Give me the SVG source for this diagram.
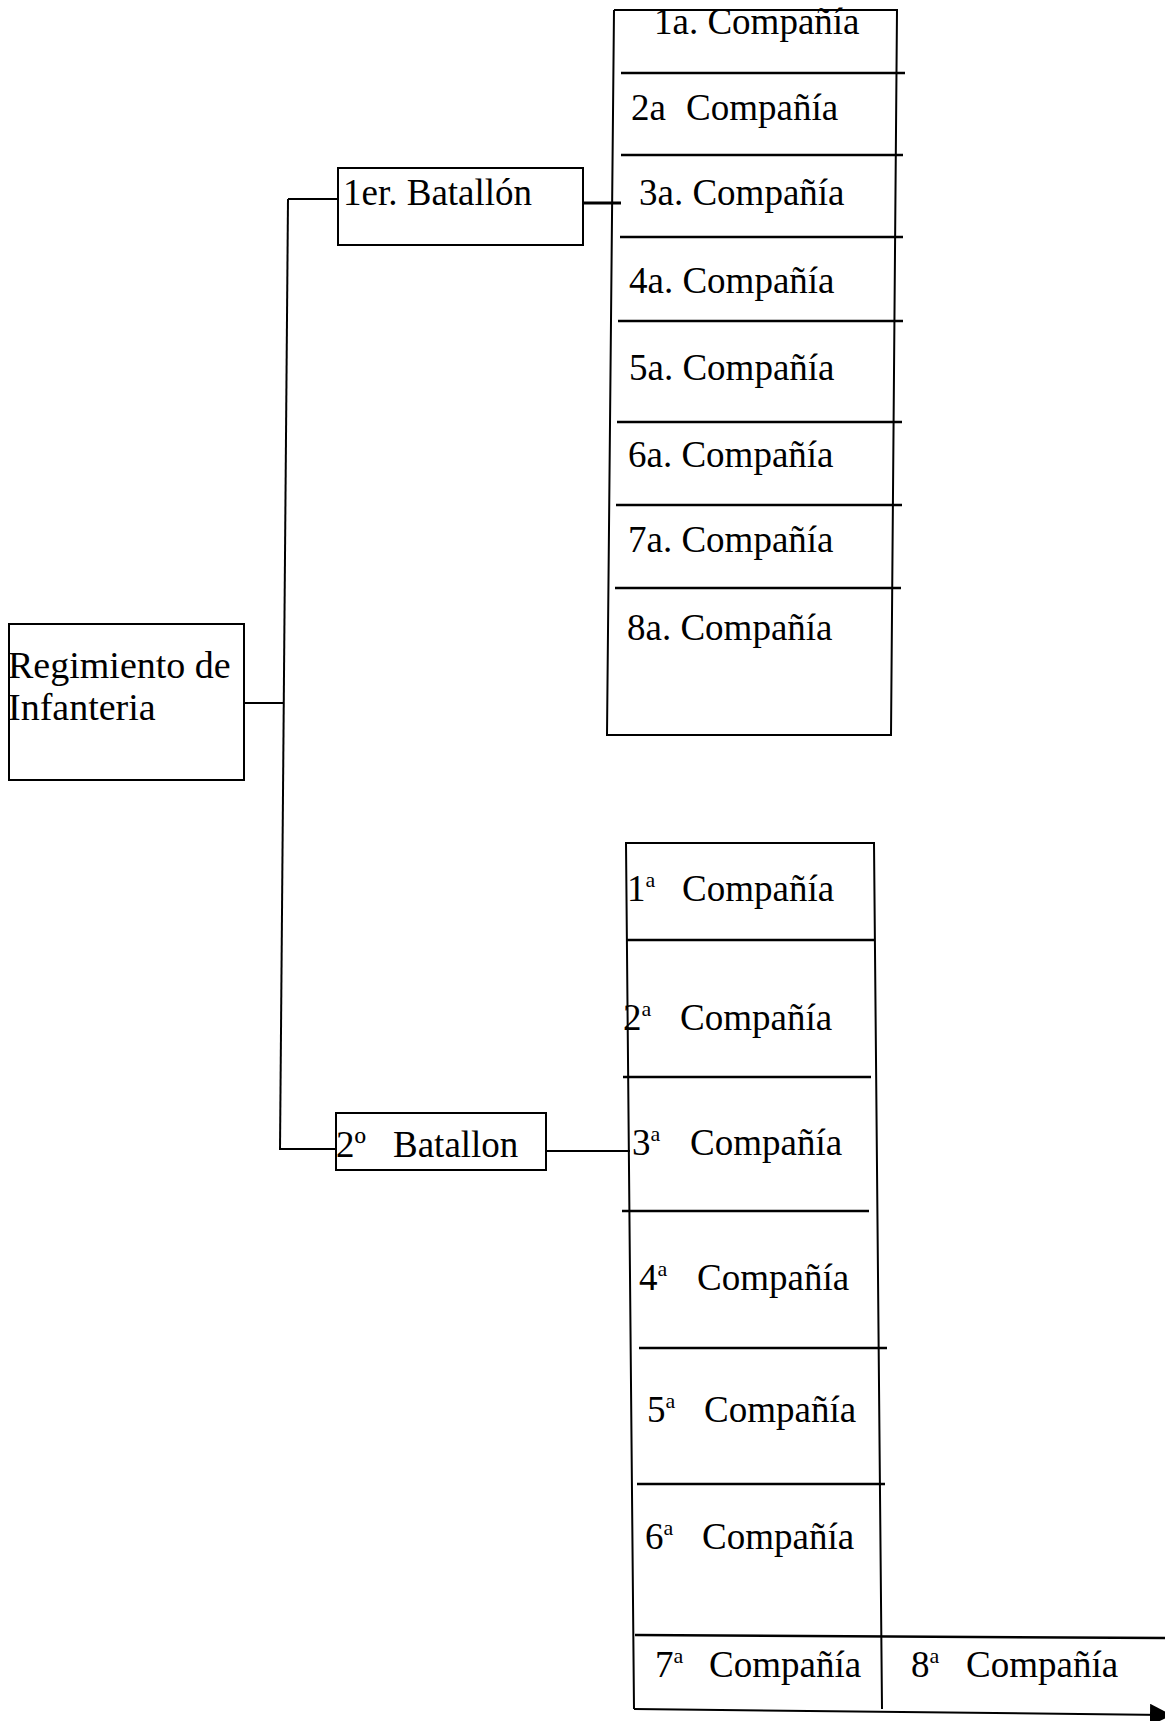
<svg xmlns="http://www.w3.org/2000/svg" width="1165" height="1721" viewBox="0 0 1165 1721">
<style>
.box{fill:none;stroke:#000;stroke-width:2}
.ln{fill:none;stroke:#000;stroke-width:2}
.sep{fill:none;stroke:#000;stroke-width:2.5}
.t{font-family:"Liberation Serif","Times New Roman",serif;font-size:37px;fill:#000}
.big{font-size:38px}
.sup{font-size:22px}
</style>
<defs>
<marker id="arr" viewBox="0 0 10 10" refX="10" refY="5" markerWidth="22" markerHeight="22" markerUnits="userSpaceOnUse" orient="auto">
<path d="M0,0 L10,5 L0,10 Z" fill="#000"/>
</marker>
</defs>
<rect width="1165" height="1721" fill="#fff"/>

<g id="connectors">
<line class="ln" x1="245" y1="703" x2="284" y2="703"/>
<line class="ln" x1="288" y1="199" x2="280" y2="1150"/>
<line class="ln" x1="288" y1="199" x2="338" y2="199"/>
<line class="ln" x1="280" y1="1149" x2="336" y2="1149"/>
<line class="ln" x1="583" y1="203" x2="621" y2="203" style="stroke-width:3"/>
<line class="ln" x1="546" y1="1151" x2="630" y2="1151"/>
</g>

<g id="regimiento">
<rect class="box" x="9" y="624" width="235" height="156"/>
<text class="t big" x="8" y="678">Regimiento de</text>
<text class="t big" x="8" y="720">Infanteria</text>
</g>

<g id="batallon1">
<rect class="box" x="338" y="168" width="245" height="77"/>
<text class="t" x="343" y="205">1er. Batallón</text>
</g>

<g id="batallon2">
<rect class="box" x="336" y="1113" width="210" height="57"/>
<text class="t" x="336" y="1157">2º<tspan x="393">Batallon</tspan></text>
</g>

<g id="companias1">
<polyline class="box" points="614,10 897,10 891,735 607,735 614,10"/>
<line class="sep" x1="621" y1="73" x2="905" y2="73"/>
<line class="sep" x1="621" y1="155" x2="903" y2="155"/>
<line class="sep" x1="620" y1="237" x2="903" y2="237"/>
<line class="sep" x1="618" y1="321" x2="903" y2="321"/>
<line class="sep" x1="617" y1="422" x2="902" y2="422"/>
<line class="sep" x1="616" y1="505" x2="902" y2="505"/>
<line class="sep" x1="615" y1="588" x2="901" y2="588"/>
<text class="t" x="654" y="34">1a. Compañía</text>
<text class="t" x="631" y="120">2a<tspan x="686">Compañía</tspan></text>
<text class="t" x="639" y="205">3a. Compañía</text>
<text class="t" x="629" y="293">4a. Compañía</text>
<text class="t" x="629" y="380">5a. Compañía</text>
<text class="t" x="628" y="467">6a. Compañía</text>
<text class="t" x="628" y="552">7a. Compañía</text>
<text class="t" x="627" y="640">8a. Compañía</text>
</g>

<g id="companias2">
<polyline class="box" points="634,1709 626,843 874,843 882,1709"/>
<line class="sep" x1="626" y1="940" x2="874" y2="940"/>
<line class="sep" x1="623" y1="1077" x2="871" y2="1077"/>
<line class="sep" x1="622" y1="1211" x2="869" y2="1211"/>
<line class="sep" x1="639" y1="1348" x2="887" y2="1348"/>
<line class="sep" x1="637" y1="1484" x2="885" y2="1484"/>
<line class="sep" x1="635" y1="1635" x2="1165" y2="1638"/>
<line class="ln" x1="634" y1="1709" x2="1172" y2="1715" marker-end="url(#arr)"/>
<text class="t" x="627" y="901">1<tspan class="sup" dy="-14">a</tspan><tspan x="682" dy="14">Compañía</tspan></text>
<text class="t" x="623" y="1030">2<tspan class="sup" dy="-14">a</tspan><tspan x="680" dy="14">Compañía</tspan></text>
<text class="t" x="632" y="1155">3<tspan class="sup" dy="-14">a</tspan><tspan x="690" dy="14">Compañía</tspan></text>
<text class="t" x="639" y="1290">4<tspan class="sup" dy="-14">a</tspan><tspan x="697" dy="14">Compañía</tspan></text>
<text class="t" x="647" y="1422">5<tspan class="sup" dy="-14">a</tspan><tspan x="704" dy="14">Compañía</tspan></text>
<text class="t" x="645" y="1549">6<tspan class="sup" dy="-14">a</tspan><tspan x="702" dy="14">Compañía</tspan></text>
<text class="t" x="655" y="1677">7<tspan class="sup" dy="-14">a</tspan><tspan x="709" dy="14">Compañía</tspan></text>
<text class="t" x="911" y="1677">8<tspan class="sup" dy="-14">a</tspan><tspan x="966" dy="14">Compañía</tspan></text>
</g>
</svg>
